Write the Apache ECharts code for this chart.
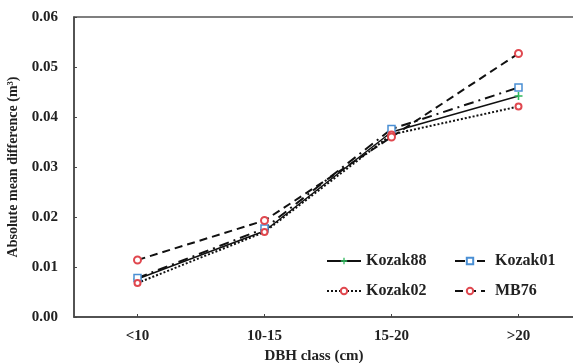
<!DOCTYPE html>
<html>
<head>
<meta charset="utf-8">
<script src="https://cdn.jsdelivr.net/npm/echarts@6/dist/echarts.min.js"></script>
<style>
  html, body { margin: 0; padding: 0; background: #fff; }
  #chart_main { width: 573px; height: 363px; }
</style>
</head>
<body>
<div id="chart_main"></div>
<script>
  // DBH classes and absolute mean difference (m3) per model
  var categories = ['<10', '10-15', '15-20', '>20'];
  var kozak88 = [0.0076, 0.0172, 0.0370, 0.0442];
  var kozak01 = [0.0078, 0.0177, 0.0376, 0.0459];
  var kozak02 = [0.0068, 0.0170, 0.0365, 0.0421];
  var mb76 = [0.0114, 0.0193, 0.0360, 0.0527];
  var yTicks = [0, 0.01, 0.02, 0.03, 0.04, 0.05, 0.06];

  var font = 'Liberation Serif';
  var star = 'path://M4,0 L6,0 L6,4 L10,4 L10,6 L6,6 L6,10 L4,10 L4,6 L0,6 L0,4 L4,4 Z';

  var chart = echarts.init(document.getElementById('chart_main'));
  chart.setOption({
    backgroundColor: '#fff',
    animation: false,
    grid: {
      left: 74, top: 17, right: -9, bottom: 46,
      outerBoundsMode: 'none',
      show: true, borderColor: '#555', borderWidth: 1.5
    },
    legend: [{
      left: 321, top: 248, orient: 'vertical',
      itemWidth: 34, itemHeight: 8, itemGap: 14,
      data: ['Kozak88', 'Kozak02'],
      textStyle: { fontFamily: font, fontWeight: 'bold', fontSize: 16, color: '#222' }
    }, {
      left: 449, top: 248, orient: 'vertical',
      itemWidth: 30, itemHeight: 8, itemGap: 14,
      data: ['Kozak01', 'MB76'],
      textStyle: { fontFamily: font, fontWeight: 'bold', fontSize: 16, color: '#222', padding: [0, 0, 0, 5] }
    }],
    xAxis: {
      type: 'category',
      data: categories,
      boundaryGap: true,
      name: 'DBH class (cm)',
      nameLocation: 'middle',
      nameGap: 30,
      nameTextStyle: { fontFamily: font, fontWeight: 'bold', fontSize: 15, color: '#222', padding: [0, 28, 0, 0] },
      axisLine: { lineStyle: { color: '#444', width: 1.5 } },
      axisTick: { show: true, inside: true, length: 3, alignWithLabel: true, lineStyle: { color: '#444' } },
      axisLabel: { fontFamily: font, fontWeight: 'bold', fontSize: 15, color: '#222', margin: 12 },
      splitLine: { show: false }
    },
    yAxis: {
      type: 'value',
      min: yTicks[0],
      max: yTicks[yTicks.length - 1],
      interval: 0.01,
      name: 'Absolute mean difference (m³)',
      nameLocation: 'middle',
      nameGap: 43,
      nameTextStyle: { fontFamily: font, fontWeight: 'bold', fontSize: 14, color: '#222' },
      axisLine: { show: true, lineStyle: { color: '#444', width: 1.5 } },
      axisTick: { show: true, inside: true, length: 3, lineStyle: { color: '#444' } },
      axisLabel: {
        fontFamily: font, fontWeight: 'bold', fontSize: 15, color: '#222', margin: 16,
        formatter: function (v) { return v.toFixed(2); }
      },
      splitLine: { show: false }
    },
    series: [{
      name: 'Kozak88', type: 'line', data: kozak88,
      symbol: star, symbolSize: 8,
      itemStyle: { color: '#2eb85c' },
      lineStyle: { color: '#111', width: 1.5, type: 'solid' }
    }, {
      name: 'Kozak01', type: 'line', data: kozak01,
      symbol: 'rect', symbolSize: 7,
      itemStyle: { color: '#fff', borderColor: '#4a8fd4', borderWidth: 1.5 },
      lineStyle: { color: '#111', width: 2, type: [10, 5, 2, 5] }
    }, {
      name: 'Kozak02', type: 'line', data: kozak02,
      symbol: 'emptyCircle', symbolSize: 6,
      itemStyle: { color: '#e0484f', borderWidth: 1.5 },
      lineStyle: { color: '#111', width: 2, type: [2, 2] }
    }, {
      name: 'MB76', type: 'line', data: mb76,
      symbol: 'emptyCircle', symbolSize: 7,
      itemStyle: { color: '#e0484f', borderWidth: 1.5 },
      lineStyle: { color: '#111', width: 2, type: [8, 5] }
    }]
  });
</script>
</body>
</html>
